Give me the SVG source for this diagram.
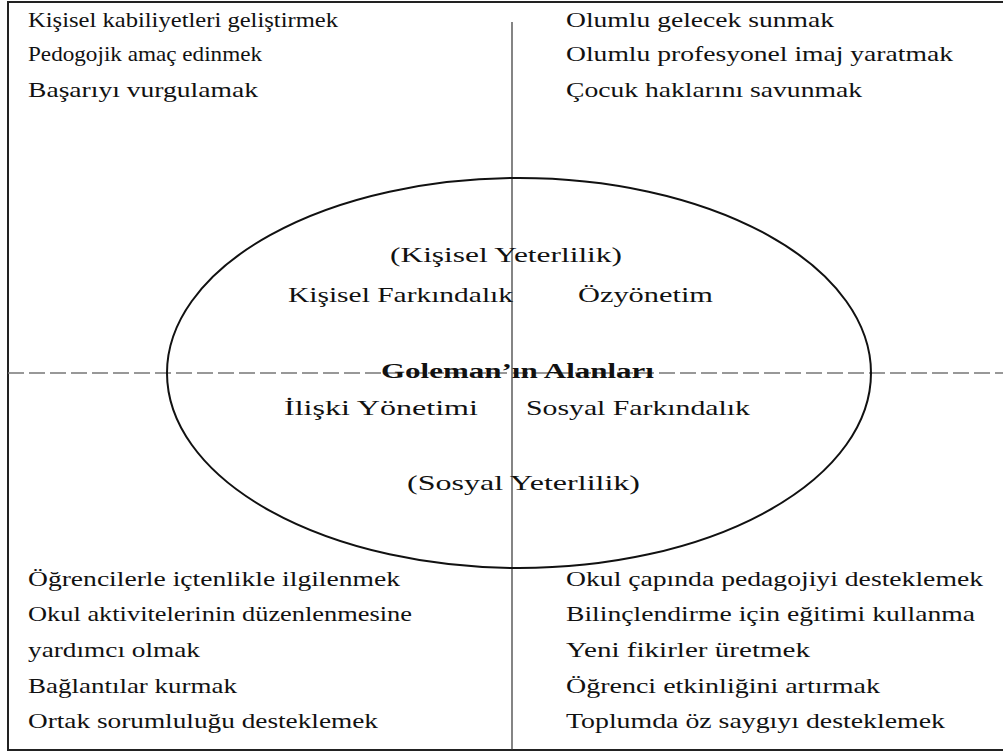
<svg xmlns="http://www.w3.org/2000/svg" width="1003" height="753" viewBox="0 0 1003 753" font-family="'Liberation Serif', 'DejaVu Serif', serif">
<style>
text{font-family:'Liberation Serif','DejaVu Serif',serif;fill:#111;}
.c{font-size:21px;}
.m{font-size:22px;}
.b{font-size:22px;font-weight:bold;}
.frame{stroke:#222;stroke-width:2;fill:none;}
.axis{stroke:#333;stroke-width:1.2;fill:none;}
.dash{stroke:#777;stroke-width:1.5;stroke-dasharray:16 5;fill:none;}
.ell{stroke:#111;stroke-width:2;fill:none;}
</style>
<g id="frame">
<path class="frame" d="M1003,2 H8 V750 H1003"/>
</g>
<g id="connectors">
<line class="axis" x1="512" y1="22" x2="512" y2="750"/>
<line class="dash" x1="8" y1="373" x2="1003" y2="373"/>
</g>
<g id="ellipse">
<ellipse class="ell" cx="519" cy="373" rx="352" ry="195"/>
</g>
<g id="top-left">
<text class="c" x="28" y="27" textLength="310" lengthAdjust="spacingAndGlyphs">Kişisel kabiliyetleri geliştirmek</text>
<text class="c" x="28" y="61" textLength="234" lengthAdjust="spacingAndGlyphs">Pedogojik amaç edinmek</text>
<text class="c" x="28" y="97" textLength="230" lengthAdjust="spacingAndGlyphs">Başarıyı vurgulamak</text>
</g>
<g id="top-right">
<text class="c" x="566" y="27" textLength="268" lengthAdjust="spacingAndGlyphs">Olumlu gelecek sunmak</text>
<text class="c" x="566" y="61" textLength="387" lengthAdjust="spacingAndGlyphs">Olumlu profesyonel imaj yaratmak</text>
<text class="c" x="566" y="97" textLength="296" lengthAdjust="spacingAndGlyphs">Çocuk haklarını savunmak</text>
</g>
<g id="center">
<text class="m" x="390" y="262" textLength="232" lengthAdjust="spacingAndGlyphs">(Kişisel Yeterlilik)</text>
<text class="m" x="288" y="302" textLength="225" lengthAdjust="spacingAndGlyphs">Kişisel Farkındalık</text>
<text class="m" x="578" y="302" textLength="135" lengthAdjust="spacingAndGlyphs">Özyönetim</text>
<text class="b" x="381" y="378" textLength="273" lengthAdjust="spacingAndGlyphs">Goleman’ın Alanları</text>
<text class="m" x="284" y="415" textLength="194" lengthAdjust="spacingAndGlyphs">İlişki Yönetimi</text>
<text class="m" x="526" y="415" textLength="224" lengthAdjust="spacingAndGlyphs">Sosyal Farkındalık</text>
<text class="m" x="407" y="490" textLength="233" lengthAdjust="spacingAndGlyphs">(Sosyal Yeterlilik)</text>
</g>
<g id="bottom-left">
<text class="c" x="28" y="586" textLength="372" lengthAdjust="spacingAndGlyphs">Öğrencilerle içtenlikle ilgilenmek</text>
<text class="c" x="28" y="621" textLength="384" lengthAdjust="spacingAndGlyphs">Okul aktivitelerinin düzenlenmesine</text>
<text class="c" x="28" y="657" textLength="172" lengthAdjust="spacingAndGlyphs">yardımcı olmak</text>
<text class="c" x="28" y="693" textLength="209" lengthAdjust="spacingAndGlyphs">Bağlantılar kurmak</text>
<text class="c" x="28" y="728" textLength="350" lengthAdjust="spacingAndGlyphs">Ortak sorumluluğu desteklemek</text>
</g>
<g id="bottom-right">
<text class="c" x="566" y="586" textLength="417" lengthAdjust="spacingAndGlyphs">Okul çapında pedagojiyi desteklemek</text>
<text class="c" x="566" y="621" textLength="409" lengthAdjust="spacingAndGlyphs">Bilinçlendirme için eğitimi kullanma</text>
<text class="c" x="566" y="657" textLength="244" lengthAdjust="spacingAndGlyphs">Yeni fikirler üretmek</text>
<text class="c" x="566" y="693" textLength="314" lengthAdjust="spacingAndGlyphs">Öğrenci etkinliğini artırmak</text>
<text class="c" x="566" y="728" textLength="379" lengthAdjust="spacingAndGlyphs">Toplumda öz saygıyı desteklemek</text>
</g>
</svg>
